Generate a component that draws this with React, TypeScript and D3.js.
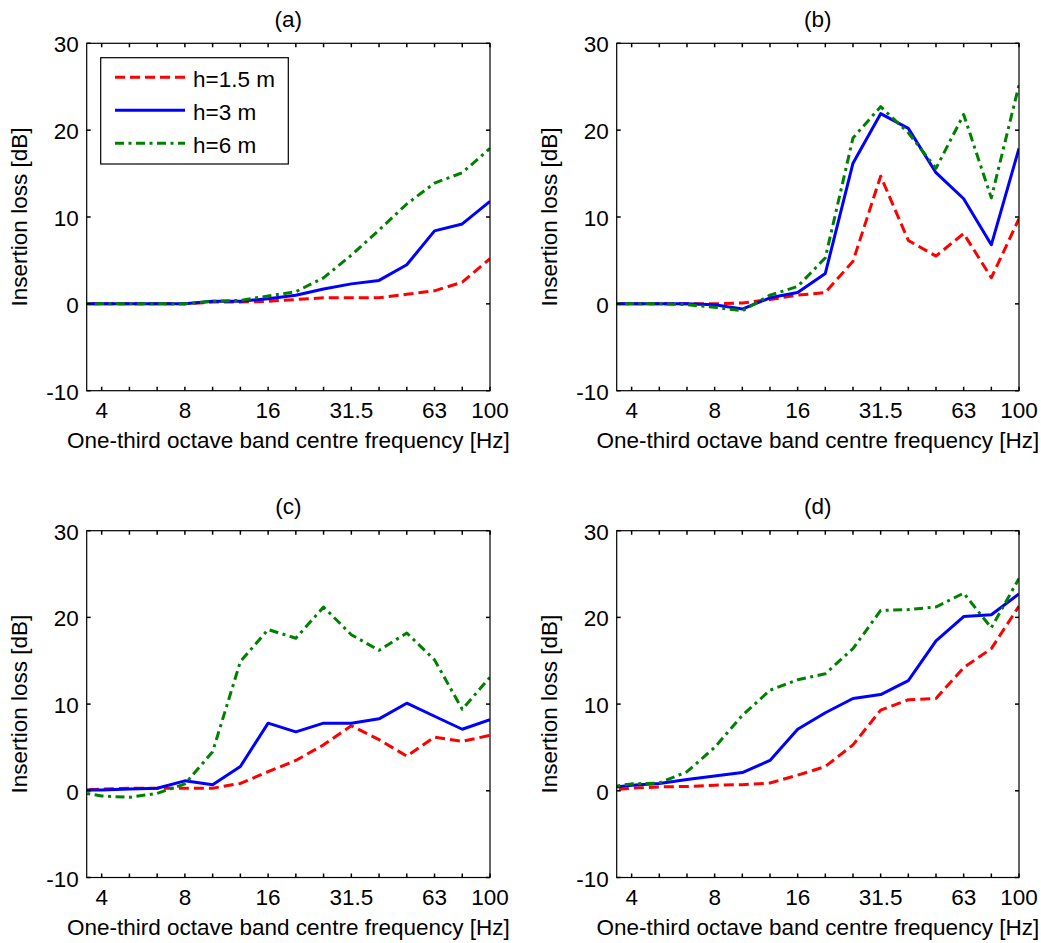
import React from "react";
import * as d3 from "d3";

const bands = ["3.15", "4", "5", "6.3", "8", "10", "12.5", "16", "20", "25", "31.5", "40", "50", "63", "80", "100"];
const labeledBands = ["4", "8", "16", "31.5", "63", "100"];
const yTicks = [-10, 0, 10, 20, 30];
const seriesNames = ["h=1.5 m", "h=3 m", "h=6 m"];
const panelTitles = ["(a)", "(b)", "(c)", "(d)"];

const aRed = [0, 0, 0, 0, 0, 0.2, 0.2, 0.3, 0.5, 0.7, 0.7, 0.7, 1.1, 1.5, 2.5, 5.2];
const aBlue = [0, 0, 0, 0, 0, 0.3, 0.3, 0.6, 1.0, 1.7, 2.3, 2.7, 4.5, 8.4, 9.2, 11.8];
const aGreen = [0, 0, 0, 0, 0, 0.3, 0.4, 0.9, 1.4, 3.0, 5.6, 8.5, 11.5, 13.9, 15.1, 17.9];

const bRed = [0, 0, 0, 0, 0, 0.1, 0.5, 1.0, 1.3, 4.9, 14.7, 7.3, 5.5, 8.1, 3.0, 9.8];
const bBlue = [0, 0, 0, 0, -0.1, -0.6, 0.7, 1.3, 3.5, 16.2, 21.9, 20.2, 15.1, 12.1, 6.8, 17.9];
const bGreen = [0, 0, 0, -0.1, -0.4, -0.8, 1.0, 2.0, 5.3, 19.1, 22.7, 19.7, 15.6, 21.8, 12.2, 25.2];

const cRed = [0, 0.2, 0.3, 0.3, 0.3, 0.3, 0.85, 2.2, 3.5, 5.3, 7.5, 5.9, 4.0, 6.2, 5.7, 6.4];
const cBlue = [0.1, 0.1, 0.2, 0.3, 1.15, 0.7, 2.8, 7.8, 6.8, 7.8, 7.8, 8.3, 10.1, 8.6, 7.1, 8.2];
const cGreen = [-0.05, -0.6, -0.75, -0.3, 0.8, 4.5, 14.9, 18.6, 17.6, 21.2, 18.0, 16.2, 18.2, 15.1, 9.4, 13.1];

const dRed = [0.02, 0.3, 0.45, 0.5, 0.65, 0.7, 0.9, 1.8, 2.8, 5.3, 9.3, 10.5, 10.65, 14.2, 16.4, 21.3];
const dBlue = [0.28, 0.65, 0.85, 1.3, 1.7, 2.1, 3.5, 7.1, 9.0, 10.65, 11.1, 12.7, 17.3, 20.1, 20.3, 22.7];
const dGreen = [0.34, 0.8, 0.9, 2.2, 5.0, 8.7, 11.6, 12.8, 13.5, 16.4, 20.8, 20.9, 21.2, 22.8, 18.8, 24.5];

const panelData = [
  [aRed, aBlue, aGreen],
  [bRed, bBlue, bGreen],
  [cRed, cBlue, cGreen],
  [dRed, dBlue, dGreen],
];

const colors = ["#ff0000", "#0000ff", "#008000"];
const dashes = ["10,5", null, "9,4.5,3,4.5"];
const FONT = "'Liberation Sans', Arial, Helvetica, sans-serif";
const FS = 22.5;

const layout = [
  { x0: 86.7, x1: 490, y0: 43.3, y1: 390.7 },
  { x0: 616.7, x1: 1019, y0: 43.3, y1: 390.7 },
  { x0: 86.7, x1: 490, y0: 530.7, y1: 877.5 },
  { x0: 616.7, x1: 1019, y0: 530.7, y1: 877.5 },
];

function Panel({ idx }: { idx: number }) {
  const { x0, x1, y0, y1 } = layout[idx];
  const x = d3.scaleLinear().domain([0.46, bands.length - 1]).range([x0, x1]);
  const y = d3.scaleLinear().domain([-10, 30]).range([y1, y0]);
  const line = d3
    .line<number>()
    .x((_, i) => x(i))
    .y((v) => y(v));
  const clipId = `clip-${idx}`;
  const series = panelData[idx];
  const tickLen = 4;
  return (
    <g>
      <defs>
        <clipPath id={clipId}>
          <rect x={x0} y={y0} width={x1 - x0} height={y1 - y0} />
        </clipPath>
      </defs>
      <rect x={x0} y={y0} width={x1 - x0} height={y1 - y0} fill="#fff" />
      <g clipPath={`url(#${clipId})`}>
        {series.map((vals, s) => (
          <path
            key={s}
            d={line(vals) || ""}
            fill="none"
            stroke={colors[s]}
            strokeWidth={3}
            strokeDasharray={dashes[s] || undefined}
            strokeLinejoin="round"
          />
        ))}
      </g>
      {bands.slice(1).map((b, i) => {
        const xx = x(i + 1);
        return (
          <g key={b} stroke="#000" strokeWidth={1.5}>
            <line x1={xx} x2={xx} y1={y1} y2={y1 - tickLen} />
            <line x1={xx} x2={xx} y1={y0} y2={y0 + tickLen} />
          </g>
        );
      })}
      {yTicks.map((t) => (
        <g key={t} stroke="#000" strokeWidth={1.5}>
          <line x1={x0} x2={x0 + tickLen} y1={y(t)} y2={y(t)} />
          <line x1={x1} x2={x1 - tickLen} y1={y(t)} y2={y(t)} />
        </g>
      ))}
      <rect x={x0} y={y0} width={x1 - x0} height={y1 - y0} fill="none" stroke="#000" strokeWidth={1.2} />
      {labeledBands.map((b) => (
        <text
          key={b}
          x={x(bands.indexOf(b))}
          y={y1 + 27.5}
          textAnchor="middle"
          fontFamily={FONT}
          fontSize={FS}
        >
          {b}
        </text>
      ))}
      {yTicks.map((t) => (
        <text key={t} x={x0 - 8} y={y(t) + 9} textAnchor="end" fontFamily={FONT} fontSize={FS}>
          {t}
        </text>
      ))}
      <text x={(x0 + x1) / 2} y={y1 + 57.5} textAnchor="middle" fontFamily={FONT} fontSize={FS}>
        One-third octave band centre frequency [Hz]
      </text>
      <text
        transform={`translate(${x0 - 60},${(y0 + y1) / 2}) rotate(-90)`}
        textAnchor="middle"
        fontFamily={FONT}
        fontSize={FS}
      >
        Insertion loss [dB]
      </text>
      <text x={(x0 + x1) / 2} y={y0 - 16.5} textAnchor="middle" fontFamily={FONT} fontSize={FS}>
        {panelTitles[idx]}
      </text>
      {idx === 0 && (
        <g>
          <rect x={x0 + 14} y={y0 + 14.4} width={187.6} height={106.3} fill="#fff" stroke="#000" strokeWidth={1.2} />
          {seriesNames.map((n, s) => {
            const ry = y0 + 34 + s * 33;
            return (
              <g key={n}>
                <line
                  x1={x0 + 28.3}
                  x2={x0 + 98.3}
                  y1={ry}
                  y2={ry}
                  stroke={colors[s]}
                  strokeWidth={3}
                  strokeDasharray={dashes[s] || undefined}
                />
                <text x={x0 + 106.3} y={ry + 10} fontFamily={FONT} fontSize={FS}>
                  {n}
                </text>
              </g>
            );
          })}
        </g>
      )}
    </g>
  );
}

export default function App() {
  return (
    <svg
      width={1041}
      height={943}
      style={{ position: "absolute", left: 0, top: 0, background: "#fff" }}
    >
      <rect x={0} y={0} width={1041} height={943} fill="#fff" />
      {[0, 1, 2, 3].map((i) => (
        <Panel key={i} idx={i} />
      ))}
    </svg>
  );
}
